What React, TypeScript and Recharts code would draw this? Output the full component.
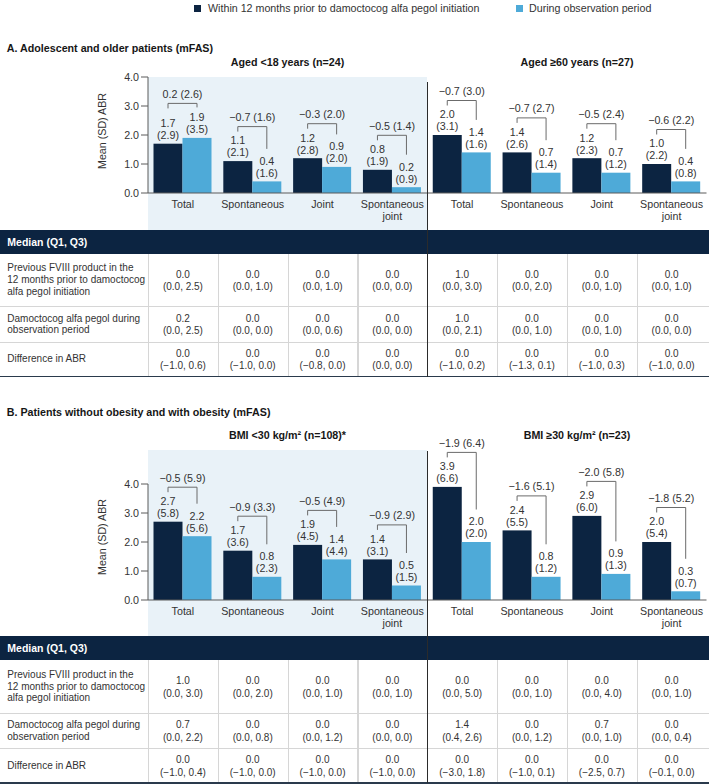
import React from 'react';
import { BarChart, Bar, XAxis, YAxis } from 'recharts';

const DARK = '#0c2441';
const LIGHT = '#4eaad8';
const SHADE = '#e9f2f8';
const INK = '#333333';
const HEAD_INK = '#161616';
const AXIS = '#5a5a5a';
const BRACKET = '#6b6b6b';
const GRID = '#d6d6d6';
const FONT = '"Liberation Sans", Arial, Helvetica, sans-serif';
const FS = 10.7;

const seriesNames = [
  'Within 12 months prior to damoctocog alfa pegol initiation',
  'During observation period',
];
const categories = ['Total', 'Spontaneous', 'Joint', 'Spontaneous joint'];
const yTicks = [0, 1, 2, 3, 4];
const tableRowLabels = [
  ['Previous FVIII product in the', '12 months prior to damoctocog', 'alfa pegol initiation'],
  ['Damoctocog alfa pegol during', 'observation period'],
  ['Difference in ABR'],
];

// A: aged <18 years
const under18Prior = [1.7, 1.1, 1.2, 0.8];
const under18PriorSd = [2.9, 2.1, 2.8, 1.9];
const under18During = [1.9, 0.4, 0.9, 0.2];
const under18DuringSd = [3.5, 1.6, 2.0, 0.9];
const under18Diff = [0.2, -0.7, -0.3, -0.5];
const under18DiffSd = [2.6, 1.6, 2.0, 1.4];

// A: aged >=60 years
const over60Prior = [2.0, 1.4, 1.2, 1.0];
const over60PriorSd = [3.1, 2.6, 2.3, 2.2];
const over60During = [1.4, 0.7, 0.7, 0.4];
const over60DuringSd = [1.6, 1.4, 1.2, 0.8];
const over60Diff = [-0.7, -0.7, -0.5, -0.6];
const over60DiffSd = [3.0, 2.7, 2.4, 2.2];

// B: BMI <30
const bmiLowPrior = [2.7, 1.7, 1.9, 1.4];
const bmiLowPriorSd = [5.8, 3.6, 4.5, 3.1];
const bmiLowDuring = [2.2, 0.8, 1.4, 0.5];
const bmiLowDuringSd = [5.6, 2.3, 4.4, 1.5];
const bmiLowDiff = [-0.5, -0.9, -0.5, -0.9];
const bmiLowDiffSd = [5.9, 3.3, 4.9, 2.9];

// B: BMI >=30
const bmiHighPrior = [3.9, 2.4, 2.9, 2.0];
const bmiHighPriorSd = [6.6, 5.5, 6.0, 5.4];
const bmiHighDuring = [2.0, 0.8, 0.9, 0.3];
const bmiHighDuringSd = [2.0, 1.2, 1.3, 0.7];
const bmiHighDiff = [-1.9, -1.6, -2.0, -1.8];
const bmiHighDiffSd = [6.4, 5.1, 5.8, 5.2];

// median (Q1, Q3) per category: [median, q1, q3]
const under18MedPrior = [[0.0, 0.0, 2.5], [0.0, 0.0, 1.0], [0.0, 0.0, 1.0], [0.0, 0.0, 0.0]];
const under18MedDuring = [[0.2, 0.0, 2.5], [0.0, 0.0, 0.0], [0.0, 0.0, 0.6], [0.0, 0.0, 0.0]];
const under18MedDiff = [[0.0, -1.0, 0.6], [0.0, -1.0, 0.0], [0.0, -0.8, 0.0], [0.0, 0.0, 0.0]];
const over60MedPrior = [[1.0, 0.0, 3.0], [0.0, 0.0, 2.0], [0.0, 0.0, 1.0], [0.0, 0.0, 1.0]];
const over60MedDuring = [[1.0, 0.0, 2.1], [0.0, 0.0, 1.0], [0.0, 0.0, 1.0], [0.0, 0.0, 0.0]];
const over60MedDiff = [[0.0, -1.0, 0.2], [0.0, -1.3, 0.1], [0.0, -1.0, 0.3], [0.0, -1.0, 0.0]];
const bmiLowMedPrior = [[1.0, 0.0, 3.0], [0.0, 0.0, 2.0], [0.0, 0.0, 1.0], [0.0, 0.0, 1.0]];
const bmiLowMedDuring = [[0.7, 0.0, 2.2], [0.0, 0.0, 0.8], [0.0, 0.0, 1.2], [0.0, 0.0, 0.0]];
const bmiLowMedDiff = [[0.0, -1.0, 0.4], [0.0, -1.0, 0.0], [0.0, -1.0, 0.0], [0.0, -1.0, 0.0]];
const bmiHighMedPrior = [[0.0, 0.0, 5.0], [0.0, 0.0, 1.0], [0.0, 0.0, 4.0], [0.0, 0.0, 1.0]];
const bmiHighMedDuring = [[1.4, 0.4, 2.6], [0.0, 0.0, 1.2], [0.7, 0.0, 1.0], [0.0, 0.0, 0.4]];
const bmiHighMedDiff = [[0.0, -3.0, 1.8], [0.0, -1.0, 0.1], [0.0, -2.5, 0.7], [0.0, -0.1, 0.0]];

// layout
const W = 709;
const H = 784;
const PLOT_LEFT = 148;
const PLOT_RIGHT = 706.5;
const PLOT_TOP = 77;
const PLOT_BOTTOM = 193;
const CHART_H = 230;
const X_AXIS_H = 36;
const Y_AXIS_W = 60;
const HEADER_TOP = 229.5;
const ROW_EDGES = [253.5, 306.5, 342, 376.5];
const BAND = (PLOT_RIGHT - PLOT_LEFT) / 8;
const SPLIT = PLOT_LEFT + 4 * BAND;

const fmt = (v: number) => (v < 0 ? '\u2212' : '') + Math.abs(v).toFixed(1);

type Group = {
  prior: number[]; priorSd: number[];
  during: number[]; duringSd: number[];
  diff: number[]; diffSd: number[];
};

const buildRows = (groups: Group[]) =>
  groups.flatMap((g, gi) =>
    categories.map((c, i) => ({
      key: `${c}|${gi}`,
      prior: g.prior[i],
      priorSd: g.priorSd[i],
      during: g.during[i],
      duringSd: g.duringSd[i],
      diff: g.diff[i],
      diffSd: g.diffSd[i],
    }))
  );

const panelARows = buildRows([
  { prior: under18Prior, priorSd: under18PriorSd, during: under18During, duringSd: under18DuringSd, diff: under18Diff, diffSd: under18DiffSd },
  { prior: over60Prior, priorSd: over60PriorSd, during: over60During, duringSd: over60DuringSd, diff: over60Diff, diffSd: over60DiffSd },
]);
const panelBRows = buildRows([
  { prior: bmiLowPrior, priorSd: bmiLowPriorSd, during: bmiLowDuring, duringSd: bmiLowDuringSd, diff: bmiLowDiff, diffSd: bmiLowDiffSd },
  { prior: bmiHighPrior, priorSd: bmiHighPriorSd, during: bmiHighDuring, duringSd: bmiHighDuringSd, diff: bmiHighDiff, diffSd: bmiHighDiffSd },
]);

const panelAMedians = [
  [...under18MedPrior, ...over60MedPrior],
  [...under18MedDuring, ...over60MedDuring],
  [...under18MedDiff, ...over60MedDiff],
];
const panelBMedians = [
  [...bmiLowMedPrior, ...bmiHighMedPrior],
  [...bmiLowMedDuring, ...bmiHighMedDuring],
  [...bmiLowMedDiff, ...bmiHighMedDiff],
];

// mean over (SD) above a bar
const ValueLabel = ({ cx, top, mean, sd }: { cx: number; top: number; mean: number; sd: number }) => (
  <text textAnchor="middle" fontSize={FS} fill={INK}>
    <tspan x={cx} y={top - 16.7}>{fmt(mean)}</tspan>
    <tspan x={cx} y={top - 4.7}>({fmt(sd)})</tspan>
  </text>
);

const PriorBar = (p: any) => {
  const { x, y, width, height, payload } = p;
  return (
    <g>
      <rect x={x} y={y} width={width} height={height} fill={DARK} />
      <ValueLabel cx={x + width / 2} top={y} mean={payload.prior} sd={payload.priorSd} />
    </g>
  );
};

// light bar also carries the difference bracket that spans both bars
const DuringBar = (p: any) => {
  const { x, y, width, height, payload } = p;
  const base = y + height;
  const perUnit = height / payload.during;
  const priorTop = base - payload.prior * perUnit;
  const leftX = x - width / 2;
  const rightX = x + width / 2;
  const priorFirst = priorTop - 20.5;
  const duringFirst = y - 20.5;
  const hLine = Math.min(priorFirst, duringFirst) - 14;
  const rightEnd = Math.max(hLine + 4, duringFirst - 12);
  return (
    <g>
      <rect x={x} y={y} width={width} height={height} fill={LIGHT} />
      <ValueLabel cx={rightX} top={y} mean={payload.during} sd={payload.duringSd} />
      <path
        d={`M${leftX},${hLine + 5}V${hLine}H${rightX}V${rightEnd}`}
        fill="none"
        stroke={BRACKET}
        strokeWidth={1}
      />
      <text x={x} y={hLine - 5.7} textAnchor="middle" fontSize={FS} fill={INK}>
        {`${fmt(payload.diff)} (${fmt(payload.diffSd)})`}
      </text>
    </g>
  );
};

const CategoryTick = (p: any) => {
  const { x, y, payload } = p;
  const label = String(payload.value).split('|')[0];
  const lines = label === 'Spontaneous joint' ? ['Spontaneous', 'joint'] : [label];
  return (
    <text textAnchor="middle" fontSize={FS} fill={INK}>
      {lines.map((l, i) => (
        <tspan key={l} x={x} y={y + 14.8 + i * 12.5}>{l}</tspan>
      ))}
    </text>
  );
};

const abs = (s: React.CSSProperties): React.CSSProperties => ({ position: 'absolute', ...s });

function MedianTable({ medians }: { medians: number[][][] }) {
  const cols = Array.from({ length: 8 }, (_, i) => PLOT_LEFT + i * BAND);
  const rowTops = [ROW_EDGES[0], ROW_EDGES[1], ROW_EDGES[2]];
  return (
    <>
      <div style={abs({ left: 0, top: HEADER_TOP, width: W, height: ROW_EDGES[0] - HEADER_TOP, background: DARK })} />
      <div
        style={abs({
          left: 7.3, top: HEADER_TOP, height: ROW_EDGES[0] - HEADER_TOP,
          lineHeight: `${ROW_EDGES[0] - HEADER_TOP}px`, color: '#fff', fontWeight: 700, fontSize: 10.5,
        })}
      >
        Median (Q1, Q3)
      </div>
      {rowTops.map((top, r) => {
        const h = ROW_EDGES[r + 1] - top;
        return (
          <React.Fragment key={r}>
            <div
              style={abs({
                left: 7.3, top, height: h, width: 140, display: 'flex', flexDirection: 'column',
                justifyContent: 'center', fontSize: 10, lineHeight: '11.7px', color: INK,
              })}
            >
              {tableRowLabels[r].map((l) => <div key={l}>{l}</div>)}
            </div>
            {cols.map((cx, c) => {
              const [m, q1, q3] = medians[r][c];
              return (
                <div
                  key={c}
                  style={abs({
                    left: cx, top: top + 1, width: BAND, height: h, display: 'flex', flexDirection: 'column',
                    alignItems: 'center', justifyContent: 'center', fontSize: 10, lineHeight: '12.4px', color: INK,
                  })}
                >
                  <div>{fmt(m)}</div>
                  <div>({fmt(q1)}, {fmt(q3)})</div>
                </div>
              );
            })}
            {r > 0 && <div style={abs({ left: 0, top: top - 0.5, width: W, height: 1.2, background: GRID })} />}
            {cols.map((cx, c) =>
              c === 4 ? null : (
                <div key={`v${c}`} style={abs({ left: cx, top, width: 1.2, height: h, background: GRID })} />
              )
            )}
          </React.Fragment>
        );
      })}
      <div style={abs({ left: 0, top: ROW_EDGES[3] - 0.8, width: W, height: 1.6, background: '#2a3a4c' })} />
    </>
  );
}

type PanelProps = {
  top: number;
  heading: string;
  headingY: number;
  titles: [string, string];
  titleY: number;
  shadeTop: number;
  dividerTop: number;
  rows: ReturnType<typeof buildRows>;
  medians: number[][][];
};

function Panel({ top, heading, headingY, titles, titleY, shadeTop, dividerTop, rows, medians }: PanelProps) {
  return (
    <div style={abs({ left: 0, top, width: W, height: 380 })}>
      <div style={abs({ left: PLOT_LEFT, top: shadeTop, width: SPLIT - PLOT_LEFT, height: HEADER_TOP - shadeTop, background: SHADE })} />
      <div style={abs({ left: 6.8, top: headingY - 7, height: 14, lineHeight: '14px', fontWeight: 700, fontSize: FS, color: HEAD_INK, whiteSpace: 'nowrap' })}>
        {heading}
      </div>
      <div style={abs({ left: 287.5 - 120, top: titleY - 7, width: 240, textAlign: 'center', lineHeight: '14px', fontWeight: 700, fontSize: FS, color: HEAD_INK })}>
        {titles[0]}
      </div>
      <div style={abs({ left: 577 - 120, top: titleY - 7, width: 240, textAlign: 'center', lineHeight: '14px', fontWeight: 700, fontSize: FS, color: HEAD_INK })}>
        {titles[1]}
      </div>
      <div style={abs({ left: 102 - 50, top: 130.5 - 7, width: 100, height: 14, lineHeight: '14px', textAlign: 'center', fontSize: FS, color: INK, transform: 'rotate(-90deg)' })}>
        Mean (SD) ABR
      </div>
      <div style={abs({ left: 0, top: 0 })}>
        <BarChart
          width={W}
          height={CHART_H}
          data={rows}
          margin={{ top: PLOT_TOP, right: W - PLOT_RIGHT, bottom: CHART_H - PLOT_BOTTOM - X_AXIS_H, left: PLOT_LEFT - Y_AXIS_W }}
          barCategoryGap={5.5}
          barGap={0}
        >
          <XAxis
            dataKey="key"
            interval={0}
            height={X_AXIS_H}
            tickLine={false}
            tickSize={0}
            tickMargin={0}
            axisLine={{ stroke: AXIS }}
            tick={CategoryTick}
          />
          <YAxis
            width={Y_AXIS_W}
            domain={[0, 4]}
            ticks={yTicks}
            interval={0}
            tickFormatter={(v: number) => v.toFixed(1)}
            tickSize={7}
            tickMargin={2}
            axisLine={{ stroke: AXIS }}
            tickLine={{ stroke: AXIS }}
            tick={{ fill: INK, fontSize: FS }}
          />
          <Bar dataKey="prior" name={seriesNames[0]} fill={DARK} shape={PriorBar} isAnimationActive={false} />
          <Bar dataKey="during" name={seriesNames[1]} fill={LIGHT} shape={DuringBar} isAnimationActive={false} />
        </BarChart>
      </div>
      <MedianTable medians={medians} />
      <div style={abs({ left: SPLIT - 0.7, top: dividerTop, width: 1.4, height: ROW_EDGES[3] - dividerTop, background: '#2b2b2b' })} />
    </div>
  );
}

export default function App() {
  return (
    <div style={abs({ left: 0, top: 0, width: W, height: H, background: '#fff', fontFamily: FONT, color: INK, overflow: 'hidden' })}>
      {/* legend */}
      <div style={abs({ left: 193.5, top: 4.5, width: 7, height: 7, background: DARK })} />
      <div style={abs({ left: 208, top: 1, lineHeight: '14px', fontSize: FS, whiteSpace: 'nowrap' })}>{seriesNames[0]}</div>
      <div style={abs({ left: 515.5, top: 4.5, width: 7, height: 7, background: LIGHT })} />
      <div style={abs({ left: 529, top: 1, lineHeight: '14px', fontSize: FS, whiteSpace: 'nowrap' })}>{seriesNames[1]}</div>

      <Panel
        top={0}
        heading="A. Adolescent and older patients (mFAS)"
        headingY={47.5}
        titles={['Aged <18 years (n=24)', 'Aged \u226560 years (n=27)']}
        titleY={61.5}
        shadeTop={77}
        dividerTop={82}
        rows={panelARows}
        medians={panelAMedians}
      />
      <Panel
        top={406.5}
        heading="B. Patients without obesity and with obesity (mFAS)"
        headingY={5.5}
        titles={['BMI <30 kg/m\u00b2 (n=108)*', 'BMI \u226530 kg/m\u00b2 (n=23)']}
        titleY={28}
        shadeTop={43.5}
        dividerTop={44.2}
        rows={panelBRows}
        medians={panelBMedians}
      />
    </div>
  );
}
